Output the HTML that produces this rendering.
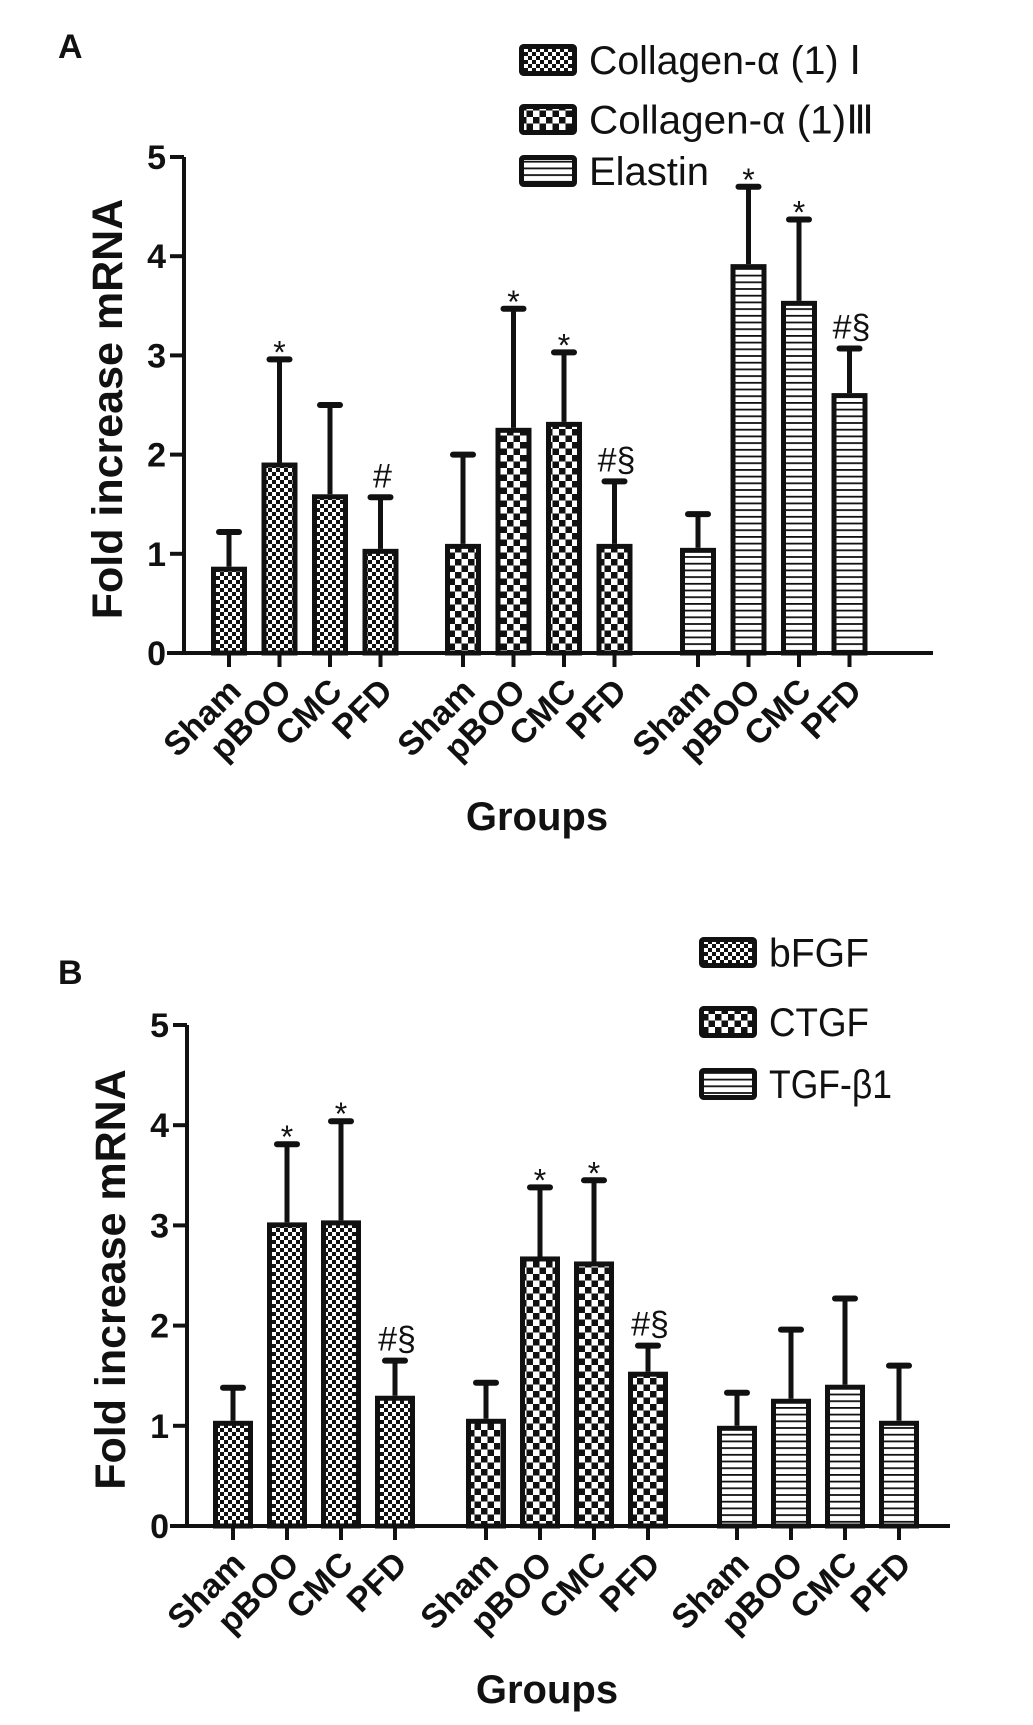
<!DOCTYPE html>
<html><head><meta charset="utf-8"><style>
body{margin:0;background:#fff;}
svg text{font-family:"Liberation Sans",Arial,sans-serif;}
</style></head><body>
<svg id="fig" width="1033" height="1720" viewBox="0 0 1033 1720" xmlns="http://www.w3.org/2000/svg">
<defs>
<pattern id="pFine" width="8" height="8" patternUnits="userSpaceOnUse"><rect width="8" height="8" fill="#fff"/><rect width="4" height="4" fill="#111"/><rect x="4" y="4" width="4" height="4" fill="#111"/></pattern>
<pattern id="pCoarse" width="13" height="13" patternUnits="userSpaceOnUse"><rect width="13" height="13" fill="#fff"/><rect width="6.5" height="6.5" fill="#111"/><rect x="6.5" y="6.5" width="6.5" height="6.5" fill="#111"/></pattern>
<pattern id="pLines" width="10" height="6.7" patternUnits="userSpaceOnUse"><rect width="10" height="6.7" fill="#fff"/><rect y="0" width="10" height="1.8" fill="#111"/></pattern>
</defs>
</svg>
<script>
// Panel A data
const catsA = ["Sham","pBOO","CMC","PFD"];
const seriesNamesA = ["Collagen-α (1) Ⅰ","Collagen-α (1)Ⅲ","Elastin"];
const col1Vals = [0.87, 1.92, 1.6, 1.05];
const col1Err = [1.22, 2.96, 2.5, 1.57];
const col3Vals = [1.1, 2.27, 2.33, 1.1];
const col3Err = [2.0, 3.47, 3.03, 1.73];
const elaVals = [1.06, 3.92, 3.55, 2.62];
const elaErr = [1.4, 4.7, 4.37, 3.07];
const col1Marks = ["", "*", "", "#"];
const col3Marks = ["", "*", "*", "#§"];
const elaMarks = ["", "*", "*", "#§"];
// Panel B data
const seriesNamesB = ["bFGF","CTGF","TGF-β1"];
const bfgfVals = [1.05, 3.03, 3.05, 1.3];
const bfgfErr = [1.38, 3.81, 4.04, 1.65];
const ctgfVals = [1.07, 2.69, 2.64, 1.54];
const ctgfErr = [1.43, 3.38, 3.45, 1.8];
const tgfVals = [1.0, 1.27, 1.41, 1.05];
const tgfErr = [1.33, 1.96, 2.27, 1.6];
const bfgfMarks = ["", "*", "*", "#§"];
const ctgfMarks = ["", "*", "*", "#§"];
const tgfMarks = ["", "", "", ""];
const yTicks = [0,1,2,3,4,5];

const NS="http://www.w3.org/2000/svg";
const svg=document.getElementById('fig');
function mk(tag,attrs,parent){const e=document.createElementNS(NS,tag);for(const k in attrs)e.setAttribute(k,attrs[k]);(parent||svg).appendChild(e);return e;}

function panel(cfg){
  const g=mk('g',{});
  
  
  const y=v=>cfg.y0-(v/5)*(cfg.y0-cfg.y5);
  const ax=mk('line',{x1:cfg.ax,y1:cfg.y5,x2:cfg.ax,y2:cfg.y0,stroke:'#111','stroke-width':4},g);
  
  
  const xa=mk('line',{x1:cfg.ax-17,y1:cfg.y0,x2:cfg.axEnd,y2:cfg.y0,stroke:'#111','stroke-width':4},g);
  
  
  yTicks.forEach(t=>{
    mk('line',{x1:cfg.ax-14,y1:y(t),x2:cfg.ax,y2:y(t),stroke:'#111','stroke-width':4},g);
    const tx=mk('text',{x:cfg.ax-18,y:y(t)+12,'text-anchor':'end','font-size':34,'font-weight':'bold',fill:'#111'},g);
    tx.textContent=t;
    
    
  });
  const yt=mk('text',{x:0,y:0,'text-anchor':'middle','font-size':43,'font-weight':'bold',fill:'#111',transform:`translate(${cfg.ax-62},${(cfg.y0+cfg.y5)/2+4}) rotate(-90)`},g);
  yt.textContent='Fold increase mRNA';
  
  
  const pats=['url(#pFine)','url(#pCoarse)','url(#pLines)'];
  cfg.series.forEach((s,si)=>{
    s.vals.forEach((v,i)=>{
      const cx=cfg.groupStart[si]+i*cfg.step;
      const w=cfg.bw;
      const el=mk('line',{x1:cx,y1:y(s.err[i]),x2:cx,y2:y(v),stroke:'#111','stroke-width':5},g);
      
      
      const cap=mk('line',{x1:cx-10,y1:y(s.err[i]),x2:cx+10,y2:y(s.err[i]),stroke:'#111','stroke-width':6,'stroke-linecap':'round'},g);
      
      
      const r=mk('rect',{x:cx-w/2+2.5,y:y(v)+2.5,width:w-5,height:cfg.y0-y(v)-2.5,fill:pats[si],stroke:'#111','stroke-width':5},g);
      
      
      mk('line',{x1:cx,y1:cfg.y0,x2:cx,y2:cfg.y0+14,stroke:'#111','stroke-width':4},g);
      if(s.marks[i]){
        const isStar=s.marks[i]==='*';
        const m=mk('text',{x:cx+(isStar?0:2),y:y(s.err[i])-(isStar?-4:10),'text-anchor':'middle','font-size':isStar?32:34,fill:'#111','font-family':isStar?'Liberation Sans, sans-serif':'Liberation Serif, serif'},g);
        m.textContent=s.marks[i];
        
        
      }
      const lb=mk('text',{x:0,y:0,'text-anchor':'end','font-size':34,'font-weight':'bold',fill:'#111',transform:`translate(${cx+14},${cfg.y0+40}) rotate(-45)`},g);
      lb.textContent=catsA[i];
      
      
    });
  });
  const gt=mk('text',{x:cfg.groupsX,y:cfg.groupsY,'text-anchor':'middle','font-size':40,'font-weight':'bold',fill:'#111'},g);
  gt.textContent='Groups';
  
  
  const pl=mk('text',{x:cfg.labelX,y:cfg.labelY,'font-size':34,'font-weight':'bold',fill:'#111','font-family':'Liberation Serif, serif'},g);
  pl.textContent=cfg.label;
  
  
  cfg.legend.forEach((L,i)=>{
    const lr=mk('rect',{x:cfg.legX+2.5,y:L.y+2.5,width:cfg.legW-5,height:L.h-5,fill:pats[i],stroke:'#111','stroke-width':5,rx:2},g);
    
    
    const lt=mk('text',{x:cfg.legX+cfg.legW+12,y:L.y+L.h/2+14,'font-size':40,fill:'#111',textLength:L.tl,lengthAdjust:'spacingAndGlyphs'},g);
    lt.textContent=cfg.series[i].name;
    
    
  });
}

panel({name:'panel-a-chart',label:'A',labelX:58,labelY:58,ax:184,axEnd:933,y0:653,y5:157,
  groupStart:[229,463,698],step:50.5,bw:36,groupsX:537,groupsY:830,
  legX:519,legW:58,legend:[{y:44,h:32,tl:272},{y:104,h:31,tl:285},{y:155,h:32,tl:120}],
  series:[{key:'col1',name:seriesNamesA[0],vals:col1Vals,err:col1Err,marks:col1Marks},
          {key:'col3',name:seriesNamesA[1],vals:col3Vals,err:col3Err,marks:col3Marks},
          {key:'elastin',name:seriesNamesA[2],vals:elaVals,err:elaErr,marks:elaMarks}]});
panel({name:'panel-b-chart',label:'B',labelX:58,labelY:984,ax:187,axEnd:950,y0:1526,y5:1025,
  groupStart:[233,486,737],step:54,bw:40,groupsX:547,groupsY:1703,
  legX:699,legW:58,legend:[{y:937,h:31,tl:100},{y:1006,h:32,tl:100},{y:1068,h:32,tl:123}],
  series:[{key:'bfgf',name:seriesNamesB[0],vals:bfgfVals,err:bfgfErr,marks:bfgfMarks},
          {key:'ctgf',name:seriesNamesB[1],vals:ctgfVals,err:ctgfErr,marks:ctgfMarks},
          {key:'tgfb1',name:seriesNamesB[2],vals:tgfVals,err:tgfErr,marks:tgfMarks}]});
</script>
</body></html>
